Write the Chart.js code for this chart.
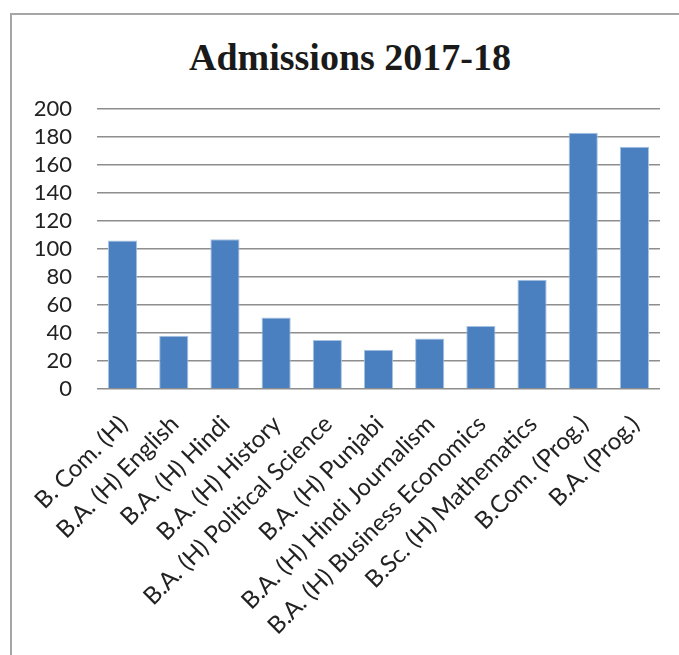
<!DOCTYPE html>
<html>
<head>
<meta charset="utf-8">
<script src="https://cdn.jsdelivr.net/npm/chart.js@4"></script>
<style>
    html, body { margin: 0; padding: 0; background: #fff; overflow: hidden; }
    #wrap { position: relative; width: 679px; height: 655px; }
    #frame { position: absolute; left: 10px; top: 13px; width: 720px; height: 700px; border: 2px solid #a6a6a6; box-sizing: border-box; }
    #title { position: absolute; left: 0; width: 700px; top: 35px; text-align: center; font: bold 38px "Liberation Serif", "Times New Roman", serif; color: #1a1a1a; }
    canvas { position: absolute; left: 0; top: 0; }
</style>
</head>
<body>
<div id="wrap">
    <div id="frame"></div>
    <div id="title">Admissions 2017-18</div>
    <canvas id="chart" width="679" height="655"></canvas>
</div>
<script>
// courses and admissions counts
const courses = [
    "B. Com. (H)", "B.A. (H) English", "B.A. (H) Hindi", "B.A. (H) History",
    "B.A. (H) Political Science", "B.A. (H) Punjabi", "B.A. (H) Hindi Journalism",
    "B.A. (H) Business Economics", "B.Sc. (H) Mathematics", "B.Com. (Prog.)", "B.A. (Prog.)"
];
const admissions = [106, 38, 107, 51, 35, 28, 36, 45, 78, 183, 173];
const yTicks = [0, 20, 40, 60, 80, 100, 120, 140, 160, 180, 200];

const fontFamily = "Lato, 'Open Sans', sans-serif";

new Chart(document.getElementById('chart'), {
    type: 'bar',
    data: {
        labels: courses,
        datasets: [{
            label: 'Admissions',
            data: admissions,
            backgroundColor: '#4a80bf',
            borderColor: '#a8c2e2',
            borderWidth: 1,
            barPercentage: 0.57,
            categoryPercentage: 1
        }]
    },
    options: {
        responsive: false,
        animation: false,
        layout: { padding: { left: 0, top: 109, right: 19, bottom: 0 } },
        plugins: {
            legend: { display: false },
            title: { display: false },
            tooltip: { enabled: false }
        },
        scales: {
            x: {
                grid: { display: false },
                border: { display: false },
                ticks: {
                    color: '#222',
                    font: { family: fontFamily, size: 24 },
                    minRotation: 45,
                    maxRotation: 45,
                    autoSkip: false,
                    padding: 13,
                    labelOffset: 1
                },
                afterFit: s => { s.height = 266; }
            },
            y: {
                min: 0,
                max: 200,
                afterBuildTicks: s => { s.ticks = yTicks.map(v => ({ value: v })); },
                grid: { color: '#8e8e8e', lineWidth: 1.5, drawTicks: false },
                border: { display: false },
                ticks: { color: '#222', font: { family: fontFamily, size: 22 }, padding: 25, autoSkip: false },
                afterFit: s => { s.width = 97; }
            }
        }
    }
});
</script>
</body>
</html>
